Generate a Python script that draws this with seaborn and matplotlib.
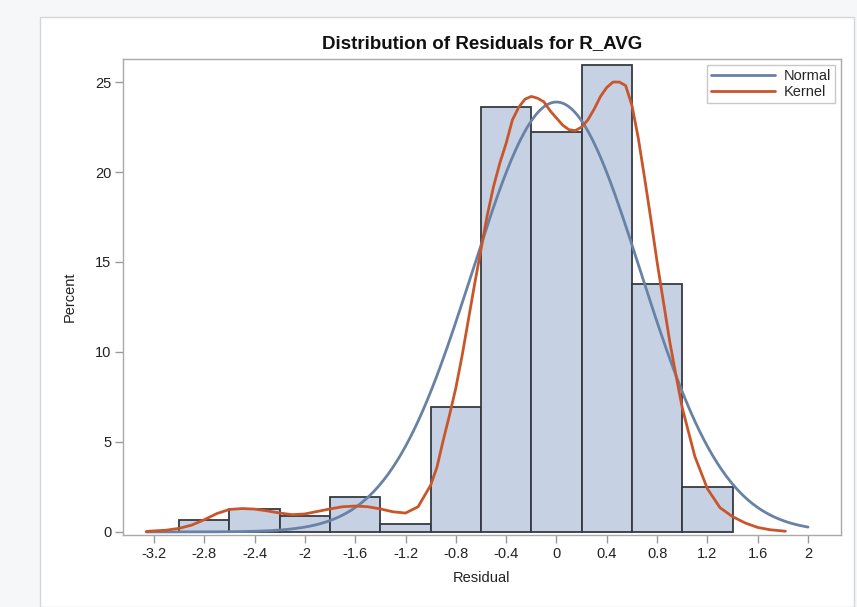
import numpy as np
import pandas as pd
import matplotlib
matplotlib.use("Agg")
import matplotlib.pyplot as plt
from matplotlib.patches import Rectangle
import seaborn as sns

# ---- data ----
bin_edges = [-3.0, -2.6, -2.2, -1.8, -1.4, -1.0, -0.6, -0.2, 0.2, 0.6, 1.0, 1.4]
bin_percent = [0.67, 1.28, 0.89, 1.93, 0.46, 6.93, 23.63, 22.24, 25.96, 13.8, 2.52]

normal_mean = 0.0
normal_sd = 0.668
normal_range = (-3.26, 2.0)

kernel_x = [-3.26, -3.1, -3.0, -2.9, -2.8, -2.7, -2.6, -2.5, -2.4, -2.3, -2.2, -2.1,
            -2.0, -1.9, -1.8, -1.7, -1.6, -1.5, -1.4, -1.3, -1.2, -1.1, -1.0, -0.95,
            -0.9, -0.85, -0.8, -0.75, -0.7, -0.65, -0.6, -0.55, -0.5, -0.45, -0.4,
            -0.35, -0.3, -0.25, -0.2, -0.15, -0.1, -0.05, 0.0, 0.05, 0.1, 0.15, 0.2,
            0.25, 0.3, 0.35, 0.4, 0.45, 0.5, 0.55, 0.6, 0.65, 0.7, 0.75, 0.8, 0.85,
            0.9, 0.95, 1.0, 1.1, 1.2, 1.3, 1.4, 1.5, 1.6, 1.7, 1.82]
kernel_y = [0.03, 0.1, 0.2, 0.38, 0.68, 1.02, 1.25, 1.3, 1.27, 1.17, 1.05, 0.96,
            1.0, 1.14, 1.28, 1.4, 1.44, 1.4, 1.28, 1.12, 1.05, 1.4, 2.6, 3.6,
            5.1, 6.5, 8.0, 9.8, 11.8, 13.8, 15.7, 17.6, 19.2, 20.5, 21.6,
            22.9, 23.6, 24.05, 24.2, 24.1, 23.9, 23.4, 23.0, 22.6, 22.35, 22.3, 22.5,
            22.9, 23.5, 24.2, 24.7, 25.0, 25.0, 24.8, 23.7, 21.9, 19.7, 17.4, 15.0, 12.8,
            10.6, 8.7, 6.9, 4.2, 2.4, 1.35, 0.85, 0.5, 0.25, 0.12, 0.04]

x_ticks = [-3.2, -2.8, -2.4, -2.0, -1.6, -1.2, -0.8, -0.4, 0.0, 0.4, 0.8, 1.2, 1.6, 2.0]
x_tick_labels = ["-3.2", "-2.8", "-2.4", "-2", "-1.6", "-1.2", "-0.8", "-0.4", "0",
                 "0.4", "0.8", "1.2", "1.6", "2"]
y_ticks = [0, 5, 10, 15, 20, 25]

# ---- style ----
sns.set_theme(style="white")
plt.rcParams["font.family"] = ["Liberation Sans", "DejaVu Sans"]

W, H = 857, 607
fig = plt.figure(figsize=(W / 100, H / 100), dpi=100, facecolor="#f6f7f9")
fig.patches.append(Rectangle((40 / W, 0), (854 - 40) / W, 1 - 17 / H,
                             transform=fig.transFigure, facecolor="white",
                             edgecolor="#d4d6da", linewidth=1.0, zorder=-1))
ax = fig.add_axes([123 / W, 1 - 535 / H, (841 - 123) / W, (535 - 59) / H])
ax.set_facecolor("white")

centers = [(a + b) / 2 for a, b in zip(bin_edges[:-1], bin_edges[1:])]
hist_df = pd.DataFrame({"Residual": centers, "Percent": bin_percent})
sns.histplot(data=hist_df, x="Residual", weights="Percent", bins=bin_edges,
             stat="count", color="#c6d1e3", alpha=1.0, edgecolor="#353a42",
             linewidth=1.3, ax=ax, zorder=2)

nx = np.linspace(normal_range[0], normal_range[1], 300)
ny = 100 * 0.4 / (normal_sd * np.sqrt(2 * np.pi)) * np.exp(-0.5 * ((nx - normal_mean) / normal_sd) ** 2)
norm_df = pd.DataFrame({"x": nx, "y": ny})
kern_df = pd.DataFrame({"x": kernel_x, "y": kernel_y})

sns.lineplot(data=norm_df, x="x", y="y", color="#6882a6", linewidth=2.0, ax=ax,
             label="Normal", zorder=3)
sns.lineplot(data=kern_df, x="x", y="y", color="#c9562b", linewidth=2.0, ax=ax,
             label="Kernel", zorder=4)

ax.set_xlim(-3.446, 2.262)
ax.set_ylim(-0.17, 26.28)
ax.set_xticks(x_ticks)
ax.set_xticklabels(x_tick_labels)
ax.set_yticks(y_ticks)
ax.tick_params(axis="both", which="major", direction="out", length=5.5, width=1,
               color="#9a9a9a", labelsize=10.5, labelcolor="#222222", pad=3,
               bottom=True, left=True)
for s in ax.spines.values():
    s.set_color("#a9a9a9")
    s.set_linewidth(1.0)

ax.set_xlabel("Residual", fontsize=10.5, color="#222222", labelpad=7)
ax.set_ylabel("Percent", fontsize=10.5, color="#222222", labelpad=13)
ax.set_title("Distribution of Residuals for R_AVG", fontsize=13.5, fontweight="bold",
             color="#111111", pad=8)

leg = ax.legend(loc="upper right", fontsize=10.5, frameon=True, fancybox=False,
                edgecolor="#c8c8c8", framealpha=1, handlelength=4.4,
                handletextpad=0.55, borderpad=0.3, labelspacing=0.1,
                borderaxespad=0.4)
leg.get_frame().set_linewidth(1.0)

fig.savefig("out.png", dpi=100, facecolor=fig.get_facecolor())
